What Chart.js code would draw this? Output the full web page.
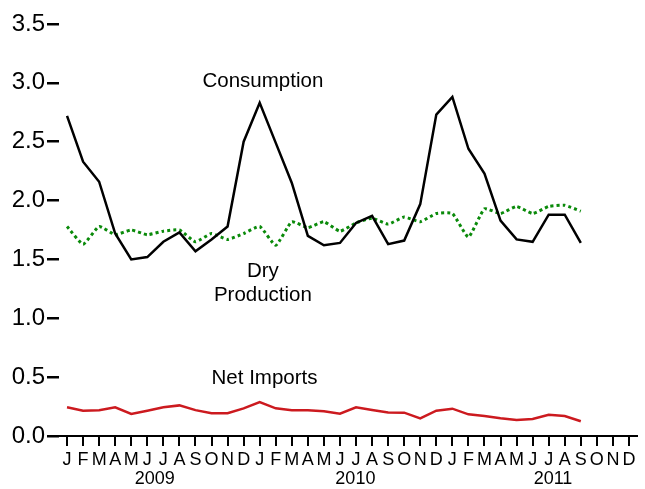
<!DOCTYPE html>
<html>
<head>
<meta charset="utf-8">
<script src="https://cdn.jsdelivr.net/npm/chart.js@4.4.1/dist/chart.umd.min.js"></script>
<style>
  html, body { margin: 0; padding: 0; background: #ffffff; }
  #wrap { width: 645px; height: 489px; position: relative; }
</style>
</head>
<body>
<div id="wrap"><canvas id="c" width="645" height="489"></canvas></div>
<script>
const months = ['J','F','M','A','M','J','J','A','S','O','N','D',
                'J','F','M','A','M','J','J','A','S','O','N','D',
                'J','F','M','A','M','J','J','A','S','O','N','D'];
const years = ['2009', '2010', '2011'];
const yearPositions = [5.47, 17.96, 30.27];

const consumption = [2.72, 2.33, 2.16, 1.72, 1.50, 1.52, 1.65, 1.73, 1.57, 1.67, 1.78, 2.50,
                     2.83, 2.49, 2.15, 1.70, 1.62, 1.64, 1.81, 1.87, 1.63, 1.66, 1.97, 2.73,
                     2.88, 2.44, 2.23, 1.83, 1.67, 1.65, 1.88, 1.88, 1.64];
const dryProduction = [1.78, 1.63, 1.78, 1.71, 1.75, 1.71, 1.74, 1.75, 1.65, 1.72, 1.67, 1.72,
                       1.78, 1.62, 1.82, 1.77, 1.82, 1.74, 1.81, 1.85, 1.80, 1.86, 1.82, 1.89,
                       1.89, 1.69, 1.93, 1.89, 1.95, 1.89, 1.95, 1.96, 1.91];
const netImports = [0.244, 0.215, 0.218, 0.244, 0.187, 0.215, 0.244, 0.260, 0.220, 0.193, 0.193, 0.235,
                    0.289, 0.235, 0.218, 0.218, 0.210, 0.190, 0.244, 0.221, 0.200, 0.198, 0.150, 0.215,
                    0.232, 0.184, 0.170, 0.150, 0.136, 0.144, 0.181, 0.170, 0.125];
const yTicks = [0, 0.5, 1.0, 1.5, 2.0, 2.5, 3.0, 3.5];

const annotations = [
  { lines: ['Consumption'], x: 12.2, y: 3.01 },
  { lines: ['Dry', 'Production'], x: 12.2, y: 1.40 },
  { lines: ['Net Imports'], x: 12.3, y: 0.49 }
];

function pixelAt(scale, v) {
  const i = Math.floor(v), f = v - i;
  const a = scale.getPixelForValue(i);
  const b = scale.getPixelForValue(i + 1);
  return a + (b - a) * f;
}

const textPlugin = {
  id: 'textPlugin',
  afterDraw(chart) {
    const ctx = chart.ctx;
    const xs = chart.scales.x, ys = chart.scales.y;
    ctx.save();
    ctx.fillStyle = '#000000';
    ctx.textAlign = 'center';
    ctx.textBaseline = 'middle';
    ctx.font = '18px "Liberation Sans", Arial, sans-serif';
    years.forEach((yr, k) => {
      ctx.fillText(yr, pixelAt(xs, yearPositions[k]), 479);
    });
    ctx.font = '20.5px "Liberation Sans", Arial, sans-serif';
    annotations.forEach(a => {
      const px = pixelAt(xs, a.x);
      const py = ys.getPixelForValue(a.y);
      a.lines.forEach((t, j) => ctx.fillText(t, px, py + j * 24));
    });
    ctx.restore();
  }
};

new Chart(document.getElementById('c'), {
  type: 'line',
  data: {
    labels: months,
    datasets: [
      { label: 'Consumption', data: consumption, borderColor: '#000000', borderWidth: 2.5,
        pointRadius: 0, tension: 0, fill: false },
      { label: 'Dry Production', data: dryProduction, borderColor: '#0a8a0a', borderWidth: 3,
        borderDash: [3, 3], pointRadius: 0, tension: 0.15, fill: false },
      { label: 'Net Imports', data: netImports, borderColor: '#cc1a1f', borderWidth: 2.5,
        pointRadius: 0, tension: 0, fill: false }
    ]
  },
  options: {
    responsive: false,
    animation: false,
    devicePixelRatio: 1,
    layout: { padding: { left: 0, right: 8, top: 24, bottom: 0 } },
    plugins: { legend: { display: false }, tooltip: { enabled: false } },
    scales: {
      x: {
        type: 'category',
        offset: true,
        grid: { display: true, drawOnChartArea: false, drawTicks: true, tickLength: 10,
                color: '#000000', lineWidth: 2, offset: false },
        border: { display: true, color: '#000000', width: 2 },
        ticks: { autoSkip: false, maxRotation: 0, minRotation: 0, padding: 3, color: '#000000',
                 font: { family: '"Liberation Sans", Arial, sans-serif', size: 18 } },
        afterFit(scale) { scale.height = 53; }
      },
      y: {
        min: 0, max: 3.5,
        afterBuildTicks(scale) { scale.ticks = yTicks.map(v => ({ value: v })); },
        grid: { display: true, drawOnChartArea: false, drawTicks: true, tickLength: 12,
                color: '#000000', lineWidth: 2.5 },
        border: { display: false },
        ticks: { padding: 2, color: '#000000',
                 font: { family: '"Liberation Sans", Arial, sans-serif', size: 24 },
                 callback: v => Number(v).toFixed(1) },
        afterFit(scale) { scale.width = 59; }
      }
    }
  },
  plugins: [textPlugin]
});
</script>
</body>
</html>
